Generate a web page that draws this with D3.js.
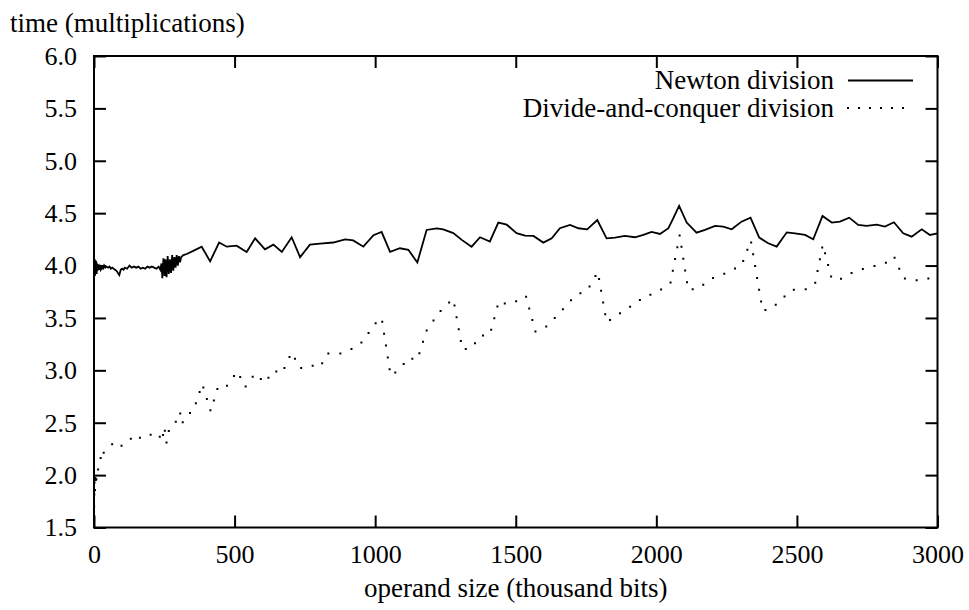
<!DOCTYPE html>
<html>
<head>
<meta charset="utf-8">
<script src="https://cdn.jsdelivr.net/npm/d3@7/dist/d3.min.js"></script>
<style>
  body { margin: 0; background: #fff; }
  svg { display: block; }
  .axis line { stroke: #000; stroke-width: 2; }
  .axis path { display: none; }
</style>
</head>
<body>
<div id="chart"></div>
<script>
// tick values
const xTicks = [0, 500, 1000, 1500, 2000, 2500, 3000];
const yTicks = [1.5, 2.0, 2.5, 3.0, 3.5, 4.0, 4.5, 5.0, 5.5, 6.0];

const seriesNames = ['Newton division', 'Divide-and-conquer division'];

// [operand size (thousand bits), time (multiplications)]
const newtonData = [
  [0.5,4.07],[1.5,3.92],[2.5,4.06],[3.5,3.90],[5,4.05],[6.5,3.93],[8,4.04],[9.5,3.92],[11,4.02],[13,3.95],
  [15,4.01],[18,3.96],[21,3.99],[24,3.96],[28,3.98],[32,3.97],[36,4.00],[40,3.98],[45,3.99],[50,3.98],
  [55,3.99],[60,3.97],[65,3.98],[70,3.97],[75,3.96],[80,3.95],[85,3.93],[90,3.91],[95,3.96],[100,3.97],
  [105,3.96],[110,3.98],[118,3.97],[126,4.00],[134,3.98],[142,3.99],[150,3.98],[158,3.99],[166,3.97],[174,3.98],
  [182,3.97],[190,3.99],[198,3.98],[206,3.99],[214,3.98],[222,3.97],[230,3.99],[236,3.96],[240,4.02],[243,3.88],
  [247,4.07],[251,3.90],[254,4.06],[258,3.89],[262,4.09],[266,3.92],[270,4.06],[274,3.93],[278,4.10],[282,3.95],
  [286,4.08],[290,3.98],[294,4.10],[298,4.00],[302,4.09],[306,4.03],[310,4.08],[318,4.10],[330,4.11],[353,4.14],
  [383,4.18],[413,4.04],[445,4.22],[472,4.18],[507,4.19],[543,4.13],[573,4.26],[608,4.155],[638,4.20],[668,4.13],
  [703,4.27],[733,4.08],[768,4.20],[804,4.21],[851,4.22],[893,4.25],[922,4.24],[958,4.18],[994,4.29],[1023,4.32],
  [1053,4.13],[1088,4.165],[1118,4.15],[1150,4.03],[1183,4.34],[1219,4.355],[1242,4.345],[1278,4.31],[1308,4.245],[1343,4.18],
  [1373,4.27],[1408,4.23],[1438,4.41],[1468,4.39],[1503,4.31],[1533,4.286],[1563,4.283],[1598,4.219],[1628,4.26],[1657,4.356],
  [1693,4.388],[1723,4.356],[1754,4.346],[1790,4.435],[1823,4.26],[1853,4.267],[1888,4.283],[1924,4.27],[1954,4.292],[1983,4.321],
  [2013,4.302],[2043,4.356],[2060,4.451],[2081,4.569],[2108,4.41],[2143,4.314],[2173,4.34],[2209,4.378],[2238,4.372],[2268,4.346],
  [2303,4.419],[2335,4.457],[2366,4.267],[2398,4.213],[2428,4.181],[2464,4.317],[2493,4.308],[2529,4.292],[2558,4.251],[2591,4.473],
  [2624,4.41],[2653,4.419],[2686,4.457],[2718,4.387],[2748,4.378],[2784,4.391],[2813,4.372],[2845,4.413],[2878,4.308],[2908,4.276],
  [2944,4.346],[2973,4.292],[3000,4.308]
];

const dacData = [
  [0.5,1.70],[2,1.95],[3,1.80],[5,2.02],[7,1.90],[9,2.01],[12,2.00],[15,2.06],[20,2.11],[24,2.17],
  [27,2.14],[33,2.21],[40,2.23],[54,2.26],[66,2.30],[77,2.31],[90,2.27],[104,2.29],[122,2.31],[132,2.35],
  [154,2.32],[167,2.37],[193,2.37],[214,2.41],[230,2.39],[242,2.32],[250,2.46],[258,2.31],[268,2.45],[288,2.50],
  [300,2.54],[306,2.60],[312,2.49],[339,2.59],[353,2.61],[385,2.87],[415,2.61],[442,2.85],[472,2.85],[510,2.99],
  [538,2.84],[573,2.97],[608,2.88],[638,3.00],[668,2.97],[703,3.17],[733,3.02],[768,3.05],[804,3.03],[830,3.16],
  [877,3.16],[922,3.21],[958,3.28],[994,3.43],[1023,3.50],[1055,2.95],[1088,3.01],[1118,3.12],[1150,3.10],[1183,3.38],
  [1219,3.52],[1242,3.60],[1278,3.68],[1310,3.20],[1343,3.21],[1373,3.33],[1408,3.34],[1440,3.66],[1468,3.63],[1503,3.66],
  [1536,3.71],[1570,3.37],[1605,3.41],[1628,3.47],[1657,3.55],[1693,3.66],[1723,3.73],[1754,3.76],[1792,3.94],[1823,3.46],
  [1853,3.51],[1888,3.58],[1924,3.63],[1954,3.70],[1999,3.74],[2050,3.83],[2083,4.29],[2113,3.77],[2150,3.78],[2190,3.87],
  [2233,3.91],[2270,3.96],[2303,4.00],[2336,4.24],[2378,3.57],[2410,3.59],[2450,3.69],[2482,3.77],[2528,3.77],[2564,3.82],
  [2592,4.20],[2624,3.87],[2653,3.87],[2695,3.93],[2737,3.97],[2784,4.00],[2813,4.02],[2845,4.09],[2878,3.88],[2905,3.86],
  [2951,3.86],[2991,3.90],[3000,3.91]
];

const serif = '"Liberation Serif", "DejaVu Serif", serif';

const W = 969, H = 610;
const margin = { top: 56, right: 31.5, bottom: 82.5, left: 94 };
const iw = W - margin.left - margin.right;
const ih = H - margin.top - margin.bottom;
const tick = 12;

const svg = d3.select('#chart').append('svg')
  .attr('width', W).attr('height', H)
  .attr('viewBox', `0 0 ${W} ${H}`)
  .style('font-family', serif);

const g = svg.append('g').attr('transform', `translate(${margin.left},${margin.top})`);

const x = d3.scaleLinear().domain([0, 3000]).range([0, iw]);
const y = d3.scaleLinear().domain([1.5, 6]).range([ih, 0]);

svg.append('defs').append('clipPath').attr('id', 'clip')
  .append('rect').attr('width', iw).attr('height', ih);

// axes, ticks pointing inward, mirrored on top/right
g.append('g').attr('class', 'axis x')
  .attr('transform', `translate(0,${ih})`)
  .call(d3.axisBottom(x).tickValues(xTicks).tickSize(-tick).tickPadding(17).tickFormat(d3.format('d')));
g.append('g').attr('class', 'axis x2')
  .call(d3.axisTop(x).tickValues(xTicks).tickSize(-tick).tickFormat(''));
g.append('g').attr('class', 'axis y')
  .call(d3.axisLeft(y).tickValues(yTicks).tickSize(-tick).tickPadding(17).tickFormat(d3.format('.1f')));
g.append('g').attr('class', 'axis y2')
  .attr('transform', `translate(${iw},0)`)
  .call(d3.axisRight(y).tickValues(yTicks).tickSize(-tick).tickFormat(''));

g.selectAll('.axis').attr('font-family', null).attr('font-size', null);
g.selectAll('.axis text')
  .style('font-family', serif)
  .style('font-size', '26px')
  .attr('fill', '#000');
g.selectAll('.axis.x text').attr('dy', '0.71em');

// frame
g.append('rect')
  .attr('width', iw).attr('height', ih)
  .attr('fill', 'none').attr('stroke', '#000').attr('stroke-width', 2);

const line = d3.line().x(d => x(d[0])).y(d => y(d[1]));

const plot = g.append('g').attr('clip-path', 'url(#clip)');
plot.append('path')
  .datum(newtonData)
  .attr('fill', 'none').attr('stroke', '#000')
  .attr('stroke-width', 1.8).attr('stroke-linejoin', 'miter')
  .attr('d', line);
plot.append('path')
  .datum(dacData)
  .attr('fill', 'none').attr('stroke', '#000')
  .attr('stroke-width', 2).attr('stroke-linecap', 'square')
  .attr('stroke-dasharray', '0 12')
  .attr('d', line);

// axis titles
svg.append('text')
  .attr('x', 10).attr('y', 32)
  .style('font-size', '27px')
  .text('time (multiplications)');
svg.append('text')
  .attr('x', margin.left + iw / 2).attr('y', 597)
  .attr('text-anchor', 'middle')
  .style('font-size', '27px')
  .text('operand size (thousand bits)');

// key
const key = svg.append('g');
const rows = [80.5, 108];
seriesNames.forEach((name, i) => {
  key.append('text')
    .attr('x', 834).attr('y', rows[i])
    .attr('dy', '0.32em')
    .attr('text-anchor', 'end')
    .style('font-size', '27px')
    .text(name);
  key.append('line')
    .attr('x1', 848).attr('x2', 913)
    .attr('y1', rows[i]).attr('y2', rows[i])
    .attr('stroke', '#000')
    .attr('stroke-width', i === 0 ? 1.8 : 2)
    .attr('stroke-linecap', i === 0 ? 'butt' : 'square')
    .attr('stroke-dasharray', i === 0 ? null : '0 11');
});
</script>
</body>
</html>
